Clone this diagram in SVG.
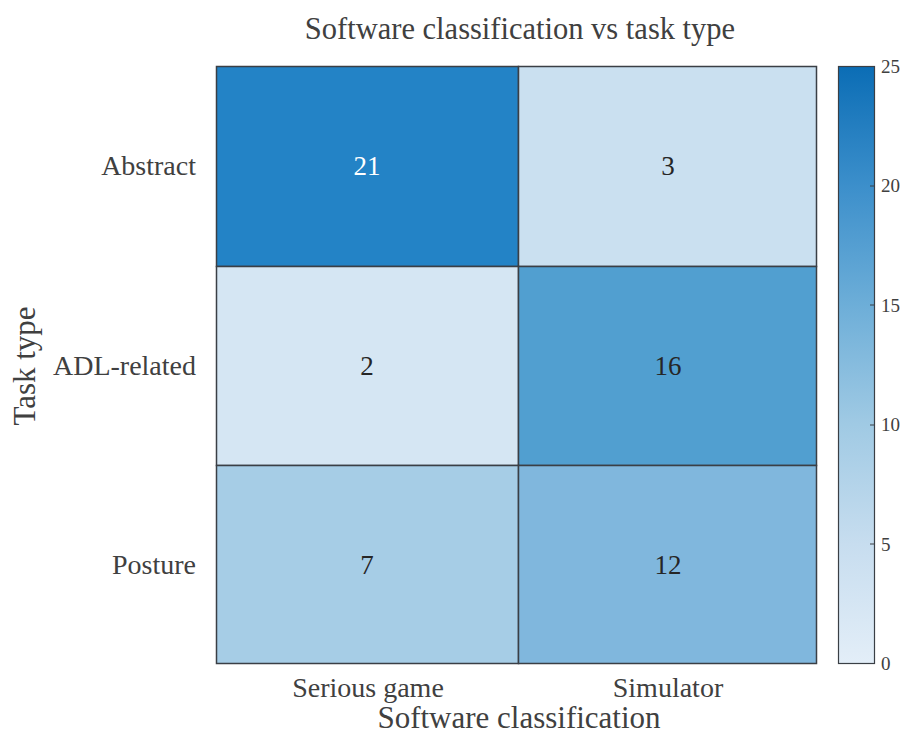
<svg xmlns="http://www.w3.org/2000/svg" width="902" height="736" viewBox="0 0 902 736">
  <defs>
    <linearGradient id="blues" x1="0" y1="1" x2="0" y2="0">
      <stop offset="0" stop-color="#E3EEF8"/>
      <stop offset="0.2" stop-color="#C7DDEF"/>
      <stop offset="0.4" stop-color="#A0CAE4"/>
      <stop offset="0.6" stop-color="#6DAED8"/>
      <stop offset="0.8" stop-color="#3C8FCB"/>
      <stop offset="1" stop-color="#0B6DB5"/>
    </linearGradient>
  </defs>
  <style>
    text { font-family: "Liberation Serif", "Times New Roman", serif; fill: #404040; }
    .title { font-size: 30.5px; }
    .axis { font-size: 31px; }
    .tick { font-size: 28px; }
    .val { font-size: 27px; text-anchor: middle; dominant-baseline: central; }
    .cb { font-size: 19px; }
    .cell { stroke: #3a3f45; stroke-width: 1.5; }
  </style>
  <rect width="902" height="736" fill="#ffffff"/>

  <text class="title" x="520" y="39" text-anchor="middle">Software classification vs task type</text>

  <!-- heatmap cells -->
  <g id="cell-abstract-serious">
    <rect class="cell" x="216.5" y="66.5" width="302" height="200" fill="#2383C6"/>
    <text class="val" x="367" y="166" style="fill:#ffffff">21</text>
  </g>
  <g id="cell-abstract-simulator">
    <rect class="cell" x="518.5" y="66.5" width="298" height="200" fill="#CAE0F0"/>
    <text class="val" x="668" y="166" style="fill:#262626">3</text>
  </g>
  <g id="cell-adl-serious">
    <rect class="cell" x="216.5" y="266.5" width="302" height="199" fill="#D5E6F3"/>
    <text class="val" x="367" y="366" style="fill:#262626">2</text>
  </g>
  <g id="cell-adl-simulator">
    <rect class="cell" x="518.5" y="266.5" width="298" height="199" fill="#519FD0"/>
    <text class="val" x="668" y="366" style="fill:#262626">16</text>
  </g>
  <g id="cell-posture-serious">
    <rect class="cell" x="216.5" y="465.5" width="302" height="198" fill="#A6CDE6"/>
    <text class="val" x="367" y="565" style="fill:#262626">7</text>
  </g>
  <g id="cell-posture-simulator">
    <rect class="cell" x="518.5" y="465.5" width="298" height="198" fill="#80B7DD"/>
    <text class="val" x="668" y="565" style="fill:#262626">12</text>
  </g>

  <!-- row labels -->
  <g text-anchor="end">
    <text class="tick" x="196" y="175">Abstract</text>
    <text class="tick" x="196" y="375">ADL-related</text>
    <text class="tick" x="196" y="574">Posture</text>
  </g>
  <!-- column labels -->
  <g text-anchor="middle">
    <text class="tick" x="368" y="697">Serious game</text>
    <text class="tick" x="668" y="697">Simulator</text>
  </g>
  <text class="axis" x="519" y="728" text-anchor="middle">Software classification</text>
  <text class="axis" x="0" y="0" text-anchor="middle" transform="translate(35 366) rotate(-90)">Task type</text>

  <!-- colorbar -->
  <g id="colorbar">
    <rect x="838.5" y="66.5" width="36" height="597" fill="url(#blues)" stroke="#3a3f45" stroke-width="1.2"/>
    <g stroke="#3a3f45" stroke-width="1">
      <line x1="870" y1="186" x2="874" y2="186"/>
      <line x1="870" y1="305" x2="874" y2="305"/>
      <line x1="870" y1="425" x2="874" y2="425"/>
      <line x1="870" y1="544" x2="874" y2="544"/>
    </g>
    <text class="cb" x="881" y="73">25</text>
    <text class="cb" x="881" y="192">20</text>
    <text class="cb" x="881" y="312">15</text>
    <text class="cb" x="881" y="431">10</text>
    <text class="cb" x="881" y="551">5</text>
    <text class="cb" x="881" y="670">0</text>
  </g>
</svg>
